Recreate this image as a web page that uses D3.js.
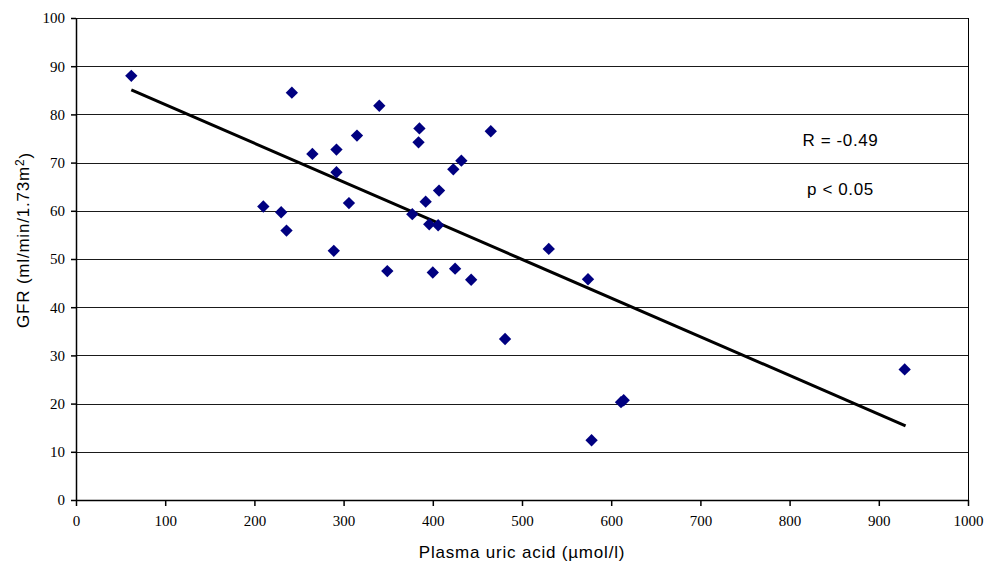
<!DOCTYPE html>
<html>
<head>
<meta charset="utf-8">
<script src="https://cdn.jsdelivr.net/npm/d3@7"></script>
<style>
  body { margin: 0; background: #fff; }
  .axis-title, .note { font-family: "Liberation Sans", Arial, sans-serif; font-size: 17px; fill: #000; }
  .axis-title { letter-spacing: 0.8px; }
  .note { letter-spacing: 0.6px; }
</style>
</head>
<body>
<svg id="chart"></svg>
<script>
// uric acid (umol/l) vs GFR
const uricAcid = [62, 242, 340, 385, 384, 465, 315, 265, 292, 292, 432, 423, 407, 392, 306, 210,
  230, 377, 396, 406, 236, 289, 530, 349, 400, 425, 443, 574, 481, 611, 614, 578, 929];
const gfr = [88.0, 84.5, 81.8, 77.1, 74.2, 76.5, 75.6, 71.8, 72.7, 68.0, 70.4, 68.6, 64.2, 61.9, 61.6, 60.9,
  59.7, 59.3, 57.2, 57.0, 55.9, 51.7, 52.1, 47.5, 47.2, 48.0, 45.7, 45.8, 33.4, 20.3, 20.7, 12.4, 27.1];

// linear trend line end points
const trendX = [62, 930];
const trendY = [85.1, 15.4];

const xTicks = [0, 100, 200, 300, 400, 500, 600, 700, 800, 900, 1000];
const yTicks = [0, 10, 20, 30, 40, 50, 60, 70, 80, 90, 100];

const notes = ["R = -0.49", "p < 0.05"];

const width = 997, height = 562;
const margin = { top: 18, right: 29, bottom: 62, left: 76 };
const innerW = width - margin.left - margin.right;
const innerH = height - margin.top - margin.bottom;

const svg = d3.select("#chart").attr("width", width).attr("height", height);
const chart = svg.append("g").attr("transform", `translate(${margin.left},${margin.top})`);

const x = d3.scaleLinear().domain([0, 1000]).range([0, innerW]);
const y = d3.scaleLinear().domain([0, 100]).range([innerH, 0]);

// horizontal grid lines
chart.append("g")
  .selectAll("line")
  .data(yTicks.slice(1))
  .join("line")
  .attr("x1", 0)
  .attr("x2", innerW)
  .attr("y1", d => Math.round(y(d)) + 0.5)
  .attr("y2", d => Math.round(y(d)) + 0.5)
  .attr("stroke", "#1a1a1a")
  .attr("stroke-width", 1);

// right border
chart.append("line")
  .attr("x1", innerW + 0.5).attr("x2", innerW + 0.5)
  .attr("y1", y(100)).attr("y2", innerH)
  .attr("stroke", "#000");

const xAxis = d3.axisBottom(x).tickValues(xTicks).tickFormat(d3.format("d"))
  .tickSize(6).tickPadding(9).tickSizeOuter(0);
const yAxis = d3.axisLeft(y).tickValues(yTicks).tickFormat(d3.format("d"))
  .tickSize(5).tickPadding(6).tickSizeOuter(0);

function styleAxis(g) {
  g.attr("font-family", null).attr("font-size", null);
  g.selectAll("line, path").attr("stroke", "#000").attr("stroke-width", 1.5);
  g.selectAll("text")
    .style("font-family", "'Liberation Serif', 'Times New Roman', serif")
    .style("font-size", "15px")
    .attr("fill", "#000");
}

chart.append("g")
  .attr("transform", `translate(0,${innerH})`)
  .call(xAxis)
  .call(styleAxis);

chart.append("g")
  .call(yAxis)
  .call(styleAxis);

// trend line
const trend = trendX.map((d, i) => [d, trendY[i]]);
chart.append("path")
  .datum(trend)
  .attr("fill", "none")
  .attr("stroke", "#000")
  .attr("stroke-width", 3)
  .attr("d", d3.line().x(d => x(d[0])).y(d => y(d[1])));

// diamond markers
const diamond = d3.symbol().type(d3.symbolSquare).size(76);
chart.append("g")
  .selectAll("path")
  .data(uricAcid.map((d, i) => ({ u: d, g: gfr[i] })))
  .join("path")
  .attr("d", diamond)
  .attr("transform", d => `translate(${x(d.u)},${y(d.g)}) rotate(45)`)
  .attr("fill", "#000080");

// annotations
chart.selectAll(".note")
  .data(notes)
  .join("text")
  .attr("class", "note")
  .attr("x", x(857))
  .attr("y", (d, i) => 146 - margin.top + i * 49)
  .attr("text-anchor", "middle")
  .text(d => d);

// axis titles
svg.append("text")
  .attr("class", "axis-title")
  .attr("x", margin.left + innerW / 2)
  .attr("y", 558)
  .attr("text-anchor", "middle")
  .text("Plasma uric acid (\u00b5mol/l)");

const yt = svg.append("text")
  .attr("class", "axis-title")
  .attr("transform", "translate(29,240) rotate(-90)")
  .attr("text-anchor", "middle");
yt.append("tspan").text("GFR (ml/min/1.73m");
yt.append("tspan").attr("dy", "-0.45em").attr("font-size", "12px").text("2");
yt.append("tspan").attr("dy", "0.45em").text(")");
</script>
</body>
</html>
